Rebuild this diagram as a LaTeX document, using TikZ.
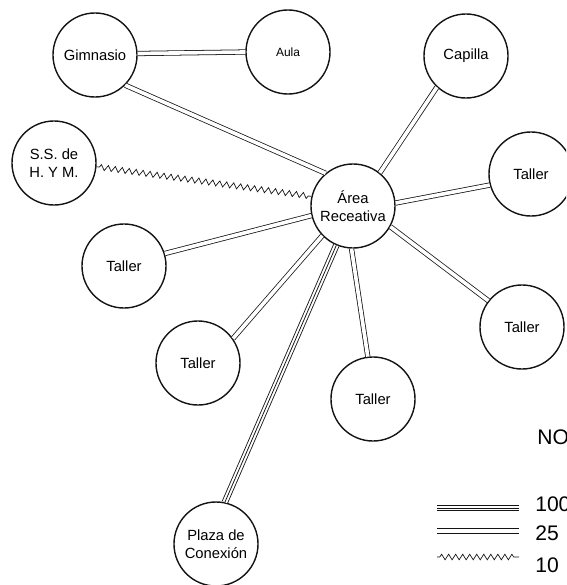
\documentclass[tikz,border=0pt]{standalone}
\usepackage{fontspec}
\setmainfont{Liberation Sans}
\usepackage{tikz}
\usetikzlibrary{decorations.pathmorphing}
\definecolor{mydark}{RGB}{20,20,20}
\tikzset{
  zona/.style={circle, draw=mydark, fill=white, minimum size=2.1cm,
    inner sep=0pt, align=center, line width=1pt,
    font=\fontsize{10.5}{12.5}\selectfont},
  via25/.style={draw=mydark, double=white, double distance=2.6pt, line width=0.55pt},
  via100/.style={draw=mydark, line width=4.6pt,
    postaction={draw=white, line width=3.4pt},
    postaction={draw=mydark, line width=0.55pt}},
  via10/.style={draw=mydark, line width=0.5pt, decorate,
    decoration={zigzag, segment length=5pt, amplitude=2pt,
      pre length=2pt, post length=2pt}},
  leyenda/.style={anchor=west, inner sep=0pt, font=\fontsize{15}{17}\selectfont}
}
\begin{document}
\begin{tikzpicture}[x=0.025cm, y=-0.025cm]
  \useasboundingbox (0,0) rectangle (566,585);
  \clip (0,0) rectangle (566,585);

  % zonas
  \node[zona] (gim) at (95,55) {Gimnasio};
  \node[zona, font=\fontsize{8.5}{10}\selectfont] (aula) at (288,52) {Aula};
  \node[zona] (capilla) at (466,56) {Capilla};
  \node[zona] (ss) at (54,163) {S.S. de\\H. Y M.};
  \node[zona] (area) at (353,206) {Área\\Receativa};
  \node[zona] (tallerA) at (531,174) {Taller};
  \node[zona] (tallerB) at (124,266) {Taller};
  \node[zona] (tallerC) at (198,363) {Taller};
  \node[zona] (tallerD) at (522,327) {Taller};
  \node[zona] (tallerE) at (373,399) {Taller};
  \node[zona] (plaza) at (216,544) {Plaza de\\Conexión};

  % relaciones
  \draw[via25] (gim.2) -- (aula.west);
  \draw[via25] (gim.-45) -- (area.130);
  \draw[via10] (ss.-5) -- (area.167);
  \draw[via25] (capilla.-133) -- (area.51);
  \draw[via25] (tallerA.195) -- (area.4);
  \draw[via25] (tallerB.17) -- (area.193);
  \draw[via25] (tallerC.35) -- (area.224);
  \draw[via100] (plaza.78) -- (area.247);
  \draw[via25] (tallerE.97) -- (area.268);
  \draw[via25] (tallerD.142) -- (area.-29);

  % nomenclatura
  \node[leyenda] (titulo) at (537,437) {NO};
  \coordinate (l1a) at (437,508);
  \coordinate (l1b) at (519,508);
  \coordinate (l2a) at (437,531);
  \coordinate (l2b) at (519,531);
  \coordinate (l3a) at (437,557);
  \coordinate (l3b) at (519,557);
  \draw[via100] (l1a) -- (l1b);
  \draw[via25] (l2a) -- (l2b);
  \draw[via10] (l3a) -- (l3b);
  \node[leyenda] (n100) at (535,504) {100};
  \node[leyenda] (n25) at (535,533) {25};
  \node[leyenda] (n10) at (535,565) {10};
\end{tikzpicture}
\end{document}
